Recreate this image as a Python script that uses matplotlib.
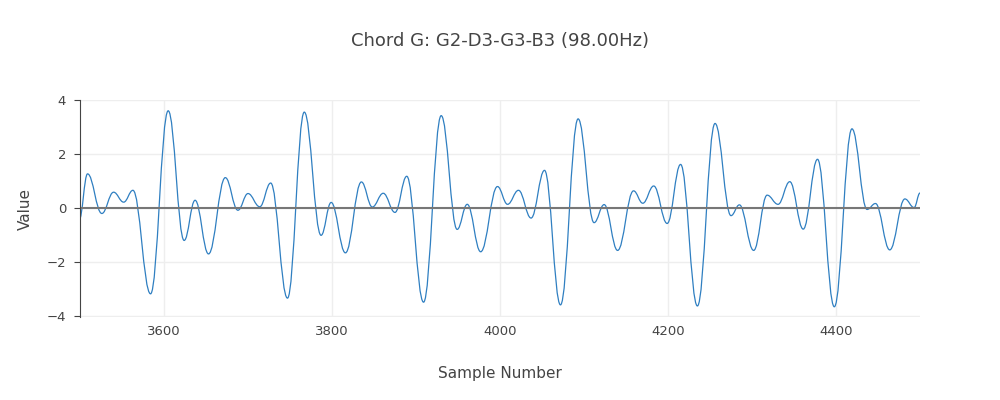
import matplotlib
matplotlib.use("Agg")
import matplotlib.pyplot as plt
from matplotlib.path import Path
from matplotlib.patches import PathPatch

# Extrema (sample number, value)
samples = [3499, 3509, 3526, 3540, 3552, 3563, 3584, 3605, 3624, 3637, 3653, 3673, 3688, 3700,
           3714, 3727, 3747, 3767, 3787, 3799, 3816, 3835, 3848, 3861, 3875, 3889, 3909, 3930,
           3949, 3961, 3977, 3997, 4009, 4022, 4037, 4053, 4072, 4093, 4112, 4124, 4140, 4159,
           4170, 4183, 4199, 4215, 4235, 4256, 4275, 4285, 4302, 4318, 4331, 4345, 4361, 4378,
           4398, 4419, 4437, 4447, 4464, 4482, 4493, 4500]
values = [-0.45, 1.26, -0.21, 0.58, 0.21, 0.65, -3.19, 3.60, -1.21, 0.28, -1.71, 1.12, -0.09, 0.53,
          0.04, 0.92, -3.35, 3.55, -1.02, 0.20, -1.67, 0.96, 0.03, 0.54, -0.17, 1.17, -3.50, 3.42,
          -0.80, 0.13, -1.63, 0.79, 0.13, 0.65, -0.38, 1.39, -3.60, 3.30, -0.55, 0.12, -1.58, 0.63,
          0.17, 0.81, -0.58, 1.61, -3.64, 3.13, -0.29, 0.11, -1.58, 0.47, 0.13, 0.97, -0.79, 1.80,
          -3.67, 2.93, -0.06, 0.16, -1.56, 0.33, 0.01, 0.55]
xticks = [3600, 3800, 4000, 4200, 4400]
yticks = [-4, -2, 0, 2, 4]

fig = plt.figure(figsize=(10, 4), dpi=100)
ax = fig.add_axes([0.08, 0.2075, 0.84, 0.5425])

verts = [(samples[0], values[0])]
codes = [Path.MOVETO]
for i in range(len(samples) - 1):
    x0, y0, x1, y1 = samples[i], values[i], samples[i + 1], values[i + 1]
    d = x1 - x0
    verts += [(x0 + 0.4 * d, y0), (x1 - 0.4 * d, y1), (x1, y1)]
    codes += [Path.CURVE4] * 3
ax.add_patch(PathPatch(Path(verts, codes), facecolor="none", edgecolor="#2f7fc1", lw=0.9))

ax.axhline(0, color="#777777", lw=1.5, zorder=1)
ax.set_xlim(3500, 4500)
ax.set_ylim(-4.05, 4.0)
ax.set_xticks(xticks)
ax.set_yticks(yticks)
ax.grid(True, color="#eeeeee", lw=1)
ax.set_axisbelow(True)
for s in ["top", "right", "bottom"]:
    ax.spines[s].set_visible(False)
ax.spines["left"].set_color("#444444")
ax.tick_params(axis="both", length=0, labelsize=9.5, colors="#444444", pad=6)
ax.tick_params(axis="y", length=4, direction="out")
ax.set_yticklabels(["\u22124", "\u22122", "0", "2", "4"])
ax.set_xlabel("Sample Number", fontsize=11, color="#444444", labelpad=20)
ax.set_ylabel("Value", fontsize=11, color="#444444", labelpad=10)
fig.text(0.5, 0.885, "Chord G: G2-D3-G3-B3 (98.00Hz)", ha="center", fontsize=13, color="#444444")
fig.savefig("out.png", dpi=100)
